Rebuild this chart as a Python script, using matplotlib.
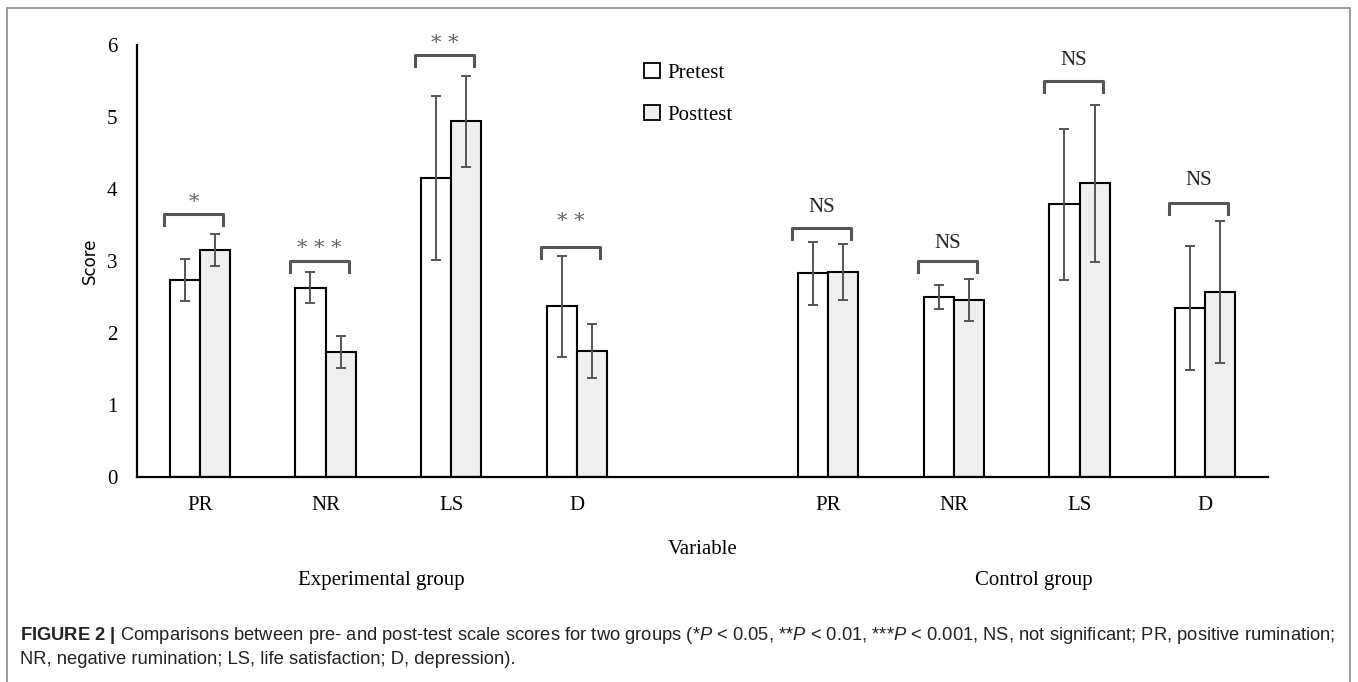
import matplotlib
matplotlib.use("Agg")
import matplotlib.pyplot as plt
from matplotlib.patches import Patch, Rectangle

# Data (means and error bar half-lengths)
variables = ["PR", "NR", "LS", "D"]
groups = ["Experimental group", "Control group"]

exp_pre = [2.74, 2.63, 4.15, 2.37]
exp_pre_err = [0.29, 0.22, 1.14, 0.70]
exp_post = [3.15, 1.74, 4.94, 1.75]
exp_post_err = [0.22, 0.22, 0.63, 0.38]

ctl_pre = [2.83, 2.50, 3.79, 2.35]
ctl_pre_err = [0.44, 0.16, 1.05, 0.86]
ctl_post = [2.85, 2.46, 4.08, 2.57]
ctl_post_err = [0.39, 0.29, 1.09, 0.98]

exp_sig = ["*", "* * *", "* *", "* *"]
ctl_sig = ["NS", "NS", "NS", "NS"]
exp_bracket_y = [3.65, 3.00, 5.86, 3.19]
ctl_bracket_y = [3.46, 3.00, 5.50, 3.80]
exp_sig_y = [3.87, 3.24, 6.08, 3.61]
ctl_sig_y = [3.75, 3.24, 5.78, 4.12]

caption_1 = (r"$\bf{FIGURE\ 2\ |}$ Comparisons between pre- and post-test scale scores for two groups "
             r"(*$\it{P}$ < 0.05, **$\it{P}$ < 0.01, ***$\it{P}$ < 0.001, NS, not significant; "
             r"PR, positive rumination;")
caption_2 = "NR, negative rumination; LS, life satisfaction; D, depression)."


def main():
    plt.rcParams["mathtext.fontset"] = "custom"
    plt.rcParams["mathtext.rm"] = "Liberation Sans"
    plt.rcParams["mathtext.it"] = "Liberation Sans:italic"
    plt.rcParams["mathtext.bf"] = "Liberation Sans:bold"

    W, H = 1358, 682
    fig = plt.figure(figsize=(W / 100, H / 100), dpi=100)
    ax = fig.add_axes([137 / W, 1 - 477 / H, (1268 - 137) / W, (477 - 45) / H])

    serif = "Liberation Serif"
    bw = 0.24
    pre_color = "white"
    post_color = "#efefef"
    err_color = "#555555"

    # experimental at 0..3, one empty slot, control at 5..8
    exp_x = list(range(len(variables)))
    ctl_x = [x + len(variables) + 1 for x in exp_x]

    for xs, pre, pre_e, post, post_e in [(exp_x, exp_pre, exp_pre_err, exp_post, exp_post_err),
                                         (ctl_x, ctl_pre, ctl_pre_err, ctl_post, ctl_post_err)]:
        ax.bar([x - bw / 2 for x in xs], pre, bw, color=pre_color, edgecolor="black",
               linewidth=1.5, zorder=2)
        ax.bar([x + bw / 2 for x in xs], post, bw, color=post_color, edgecolor="black",
               linewidth=1.5, zorder=2)
        ax.errorbar([x - bw / 2 for x in xs], pre, yerr=pre_e, fmt="none", ecolor=err_color,
                    elinewidth=1.4, capsize=3.5, capthick=1.4, zorder=3)
        ax.errorbar([x + bw / 2 for x in xs], post, yerr=post_e, fmt="none", ecolor=err_color,
                    elinewidth=1.4, capsize=3.5, capthick=1.4, zorder=3)

    # significance brackets
    half = 0.235
    leg = 0.15
    for xs, by, sy, sig in [(exp_x, exp_bracket_y, exp_sig_y, exp_sig),
                            (ctl_x, ctl_bracket_y, ctl_sig_y, ctl_sig)]:
        for x, b, s, t in zip(xs, by, sy, sig):
            cx = x - 0.05
            ax.plot([cx - half, cx - half, cx + half, cx + half], [b - leg, b, b, b - leg],
                    color=err_color, linewidth=2.2, clip_on=False, zorder=3)
            if t == "NS":
                ax.text(cx, s, t, ha="center", va="center", fontsize=15, family=serif,
                        color="#222222")
            else:
                ax.text(cx, s - 0.06, t, ha="center", va="center", fontsize=15,
                        family="DejaVu Serif", color="#666666")

    ax.set_xlim(-0.5, ctl_x[-1] + 0.5)
    ax.set_ylim(0, 6)
    ax.set_yticks(range(7))
    ax.set_yticklabels([str(i) for i in range(7)], family=serif, fontsize=15)
    ax.set_xticks(exp_x + ctl_x)
    ax.set_xticklabels(variables + variables, family=serif, fontsize=15)
    ax.tick_params(axis="both", length=0)
    ax.tick_params(axis="y", pad=14)
    ax.tick_params(axis="x", pad=14)
    for side in ["top", "right"]:
        ax.spines[side].set_visible(False)
    ax.spines["left"].set_linewidth(1.6)
    ax.spines["bottom"].set_linewidth(1.6)

    ax.set_ylabel("Score", family="DejaVu Sans", fontsize=12, labelpad=6)
    ax.set_xlabel("Variable", family=serif, fontsize=15, labelpad=18)

    fig.text(381 / W, 1 - 581 / H, groups[0], ha="center", va="center", family=serif, fontsize=15)
    fig.text(1034 / W, 1 - 581 / H, groups[1], ha="center", va="center", family=serif, fontsize=15)

    handles = [Patch(facecolor=pre_color, edgecolor="black", linewidth=1.3),
               Patch(facecolor=post_color, edgecolor="black", linewidth=1.3)]
    fig.legend(handles, ["Pretest", "Posttest"], loc="upper left",
               bbox_to_anchor=(644 / W, 1 - 63 / H), frameon=False,
               prop={"family": serif, "size": 15}, handlelength=0.75, handleheight=0.75,
               handletextpad=0.35, labelspacing=1.05, borderpad=0, borderaxespad=0)

    # caption
    fig.text(20 / W, 1 - 636 / H, caption_1, ha="left", va="center", family="Liberation Sans",
             fontsize=13.2, color="#222222")
    fig.text(20 / W, 1 - 659 / H, caption_2, ha="left", va="center", family="Liberation Sans",
             fontsize=13.2, color="#222222")

    # outer frame
    fig.patches.append(Rectangle((7 / W, -0.05), (1350 - 7) / W, 1 - 8 / H + 0.05,
                                 transform=fig.transFigure, fill=False, edgecolor="#8a8a8a",
                                 linewidth=1.2))

    fig.savefig("out.png", dpi=100)
    plt.close(fig)


if __name__ == "__main__":
    main()
